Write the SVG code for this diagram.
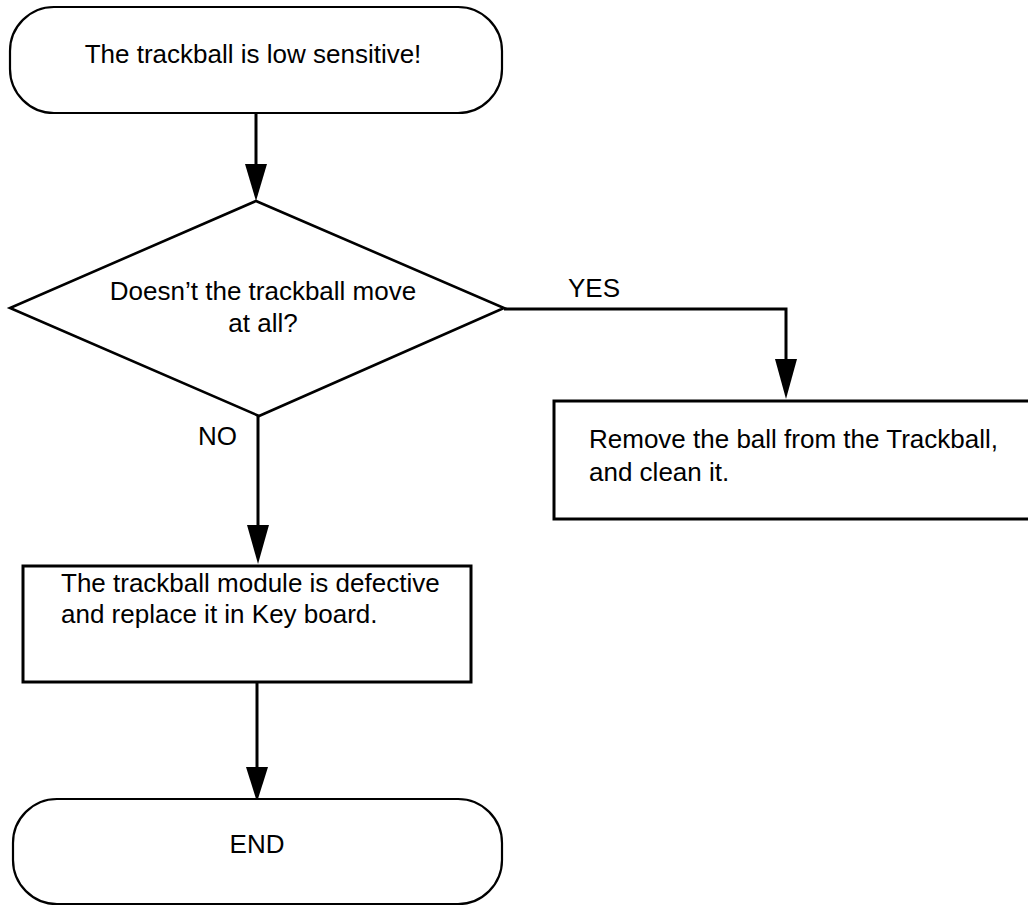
<svg xmlns="http://www.w3.org/2000/svg" width="1028" height="906" viewBox="0 0 1028 906">
<style>
text{font-family:"Liberation Sans",Arial,sans-serif;font-size:26px;fill:#000}
.term{fill:#fff;stroke:#000;stroke-width:2.2}
.box{fill:#fff;stroke:#000;stroke-width:3}
.dia{fill:#fff;stroke:#000;stroke-width:2.6}
.conn{fill:none;stroke:#000;stroke-width:3}
.head{fill:#000;stroke:none}
.c{text-anchor:middle}
</style>
<rect width="1028" height="906" fill="#fff"/>
<g id="connectors">
<line class="conn" x1="256" y1="113" x2="256" y2="166"/>
<polygon class="head" points="245,164 267,164 256,201"/>
<polyline class="conn" points="504,309 786,309 786,361"/>
<polygon class="head" points="775,359 797,359 786,399"/>
<line class="conn" x1="258" y1="416" x2="258" y2="527"/>
<polygon class="head" points="247,525 269,525 258,564"/>
<line class="conn" x1="257" y1="682" x2="257" y2="769"/>
<polygon class="head" points="246,767 268,767 257,802"/>
<text x="568" y="297">YES</text>
<text x="198" y="445">NO</text>
</g>
<g id="start">
<rect class="term" x="10" y="7" width="492" height="106" rx="44" ry="44"/>
<text class="c" x="253" y="63">The trackball is low sensitive!</text>
</g>
<g id="decision">
<polygon class="dia" points="256,201 504,308 259,416 10,308"/>
<text class="c" x="263" y="300">Doesn’t the trackball move</text>
<text class="c" x="263" y="332">at all?</text>
</g>
<g id="clean">
<rect class="box" x="554" y="401" width="490" height="118"/>
<text x="589" y="448">Remove the ball from the Trackball,</text>
<text x="589" y="481">and clean it.</text>
</g>
<g id="replace">
<rect class="box" x="23" y="566" width="448" height="116"/>
<text x="61" y="592">The trackball module is defective</text>
<text x="61" y="623">and replace it in Key board.</text>
</g>
<g id="end">
<rect class="term" x="13" y="799" width="489" height="105" rx="44" ry="44"/>
<text class="c" x="257" y="853">END</text>
</g>
</svg>
